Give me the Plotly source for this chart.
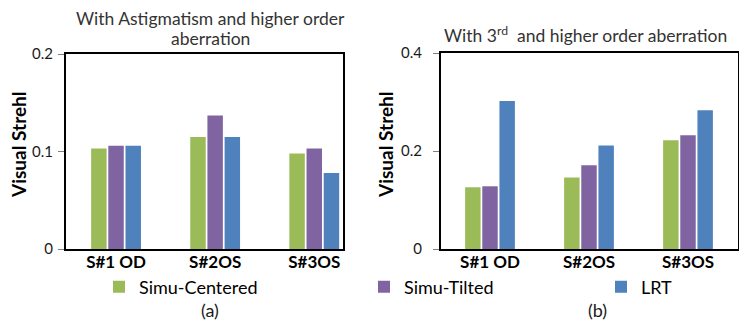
import plotly.graph_objects as go

categories = ["S#1 OD", "S#2OS", "S#3OS"]
series_names = ["Simu-Centered", "Simu-Tilted", "LRT"]
colors = ["#9BBB59", "#8064A2", "#4F81BD"]

# Panel (a): With Astigmatism and higher order aberration
a_centered = [0.103, 0.115, 0.098]
a_tilted = [0.106, 0.137, 0.103]
a_lrt = [0.106, 0.115, 0.078]

# Panel (b): With 3rd and higher order aberration
b_centered = [0.126, 0.146, 0.222]
b_tilted = [0.128, 0.171, 0.232]
b_lrt = [0.302, 0.211, 0.283]

a_ticks = [0, 0.1, 0.2]
a_ticktext = ["0", "0.1", "0.2"]
b_ticks = [0, 0.2, 0.4]
b_ticktext = ["0", "0.2", "0.4"]

title_a_lines = ["With Astigmatism and higher order", "aberration"]
title_b = "With 3<sup>rd</sup>  and higher order aberration"

FONT = "Lato"
OFF = 8  # page body margin
W, H = 747 - OFF, 329 - OFF


def fx(px):
    return (px - OFF) / W


def fy(py):
    return 1 - (py - OFF) / H


fig = go.Figure()
legends = ["legend", "legend2", "legend3"]
for vals, name, col, lg in zip([a_centered, a_tilted, a_lrt], series_names, colors, legends):
    fig.add_trace(go.Bar(x=categories, y=vals, name=name, marker_color=col,
                         marker_line_width=0, xaxis="x", yaxis="y",
                         legend=lg, showlegend=True))
for vals, name, col in zip([b_centered, b_tilted, b_lrt], series_names, colors):
    fig.add_trace(go.Bar(x=categories, y=vals, name=name, marker_color=col,
                         marker_line_width=0, xaxis="x2", yaxis="y2",
                         showlegend=False))

ax_common = dict(showline=True, linecolor="black", linewidth=2, mirror=True,
                 showgrid=False, zeroline=False, automargin=False)
xtick = dict(ticks="", tickfont=dict(size=17, family=FONT, weight="bold", color="black"),
             ticklabelstandoff=-3)
ytick = dict(ticks="outside", ticklen=6, tickcolor="#808080", tickwidth=1,
             tickfont=dict(size=15, color="#1a1a1a"))
fig.update_layout(
    width=W, height=H,
    margin=dict(l=0, r=0, t=0, b=0, autoexpand=False),
    paper_bgcolor="white", plot_bgcolor="white",
    barmode="group", bargap=0.48, bargroupgap=0.1,
    font=dict(family=FONT, color="black"),
    xaxis=dict(domain=[fx(66), fx(343)], range=[-0.505, 2.29], anchor="y",
               **xtick, **ax_common),
    yaxis=dict(domain=[fy(249), fy(54)], range=[0, 0.2], anchor="x",
               tickvals=a_ticks, ticktext=a_ticktext, ticklabelstandoff=2,
               **ytick, **ax_common),
    xaxis2=dict(domain=[fx(441), fx(738)], range=[-0.495, 2.505], anchor="y2",
                **xtick, **ax_common),
    yaxis2=dict(domain=[fy(249), fy(53)], range=[0, 0.4], anchor="x2",
                tickvals=b_ticks, ticktext=b_ticktext, ticklabelstandoff=8,
                **ytick, **ax_common),
)

leg_common = dict(orientation="h", xanchor="left", yanchor="middle",
                  xref="container", yref="container",
                  font=dict(size=18, color="black"), bgcolor="rgba(0,0,0,0)",
                  itemwidth=30, traceorder="normal")
fig.update_layout(
    legend=dict(x=fx(99), y=fy(287), **leg_common),
    legend2=dict(x=fx(364), y=fy(287), **leg_common),
    legend3=dict(x=fx(601), y=fy(287), **leg_common),
)

# Y axis titles as rotated annotations
for xc in (19, 386):
    fig.add_annotation(text="<b>Visual Strehl</b>", x=fx(xc), y=fy(145),
                       xref="paper", yref="paper", showarrow=False, textangle=-90,
                       font=dict(size=19, color="black"), xanchor="center", yanchor="middle")

for line, yc in zip(title_a_lines, (18, 38)):
    fig.add_annotation(text=line, x=fx(210), y=fy(yc), xref="paper", yref="paper",
                       showarrow=False, font=dict(size=17.5, color="#333333"),
                       xanchor="center", yanchor="middle")
fig.add_annotation(text=title_b,
                   x=fx(585), y=fy(34), xref="paper", yref="paper",
                   showarrow=False, font=dict(size=17.5, color="#333333"),
                   xanchor="center", yanchor="middle")
fig.add_annotation(text="(a)", x=fx(210), y=fy(310), xref="paper", yref="paper",
                   showarrow=False, font=dict(size=18, color="#1a1a1a"),
                   xanchor="center", yanchor="middle")
fig.add_annotation(text="(b)", x=fx(597), y=fy(310), xref="paper", yref="paper",
                   showarrow=False, font=dict(size=18, color="#1a1a1a"),
                   xanchor="center", yanchor="middle")

fig.write_html("out.html")
